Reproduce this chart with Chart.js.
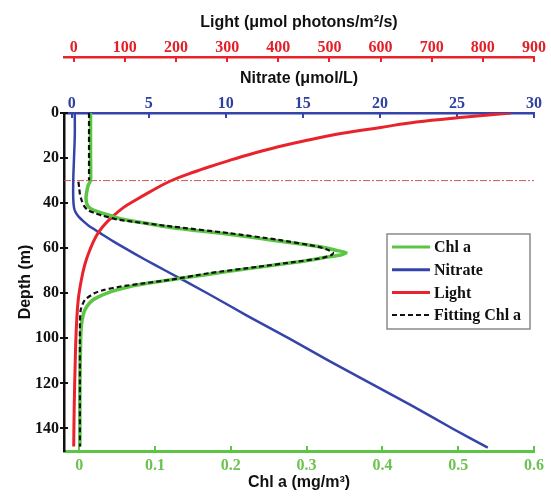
<!DOCTYPE html>
<html><head><meta charset="utf-8">
<script src="https://cdn.jsdelivr.net/npm/chart.js@4.4.0/dist/chart.umd.min.js"></script>
<style>html,body{margin:0;padding:0;background:#fff;} canvas{display:block;}</style>
</head><body>
<canvas id="c" width="551" height="501" style="width:551px;height:501px"></canvas>
<script>
// ---- data ----
const chlDepth  = [0,10,20,30,32,35,38,41,43,44.5,46,47.5,49,50.5,52,53.5,55,56.5,58,59.5,61,62,63,64,65.2,66.7,68.2,69.7,71.1,72.6,74.1,75.6,77.1,78.5,80,81.5,83,85,87.4,90,94,100,120,148];
const chlValues = [0.015,0.015,0.015,0.015,0.012,0.010,0.009,0.011,0.018,0.031,0.045,0.062,0.09,0.115,0.15,0.19,0.225,0.255,0.29,0.32,0.34,0.352,0.345,0.325,0.306,0.275,0.241,0.21,0.18,0.15,0.119,0.09,0.066,0.05,0.036,0.026,0.018,0.012,0.0075,0.005,0.003,0.002,0.001,0.001];

const fitDepth  = [0,10,20,30,30.2,30.5,33,36,38.5,41,43,44.4,45.5,47.4,50.4,53.3,56.3,59.3,61,62,63,64.4,66.3,68.2,71.1,74.1,75.6,77.1,78.5,80,83,87.4,95,120,148];
const fitValues = [0.013,0.013,0.013,0.013,null,-0.001,0.0,0.001,0.003,0.006,0.011,0.02,0.03,0.053,0.123,0.197,0.263,0.315,0.33,0.335,0.333,0.32,0.28,0.237,0.171,0.119,0.085,0.053,0.033,0.02,0.0075,0.002,0.001,0.001,0.001];

const nitrateDepth  = [0,10,20,30,38,42,44,46,48,50,52,54,57,60,65,70,80,90,100,110,120,130,140,148.5];
const nitrateValues = [0.2,0.2,0.15,0.1,0.1,0.15,0.25,0.45,0.75,1.1,1.55,2.0,2.7,3.45,4.75,6.1,8.8,11.4,14.1,16.7,19.4,22.1,24.7,27.0];

const lightDepth  = [0,2,4,6.4,9,12.3,15,18.5,21,24.4,27,30.4,35.1,38.5,42,46,50.4,55,60.8,67,74,83,96,110,130,148];
const lightValues = [855,755,670,600,525,452,400,342,305,258,225,187,148,122,97,76,57,43,31.5,22,15,8.8,5,3,1,0];

const refDepth = 30;

const chlTicks     = [0,0.1,0.2,0.3,0.4,0.5,0.6];
const nitrateTicks = [0,5,10,15,20,25,30];
const lightTicks   = [0,100,200,300,400,500,600,700,800,900];
const depthTicks   = [0,20,40,60,80,100,120,140];

const chlMin = -0.02, chlMax = 0.6;
const nitMin = -0.5,  nitMax = 30;
const lightMin = -19, lightMax = 900;
const depthMin = 0,   depthMax = 150;

// ---- styling ----
const GREEN = '#5cc545', BLUE = '#3444aa', RED = '#e8232b', BLACK = '#111111';
const GREEN_T = '#6cc24f', BLUE_T = '#3040a0', RED_T = '#e32028';
const tickFont  = {family: '"Liberation Serif", "Times New Roman", serif', weight: 'bold', size: 16, lineHeight: 1};
const titleFont = {family: '"Liberation Sans", Arial, sans-serif', weight: 'bold', size: 16, lineHeight: 1};

const pts = (ys, xs) => ys.map((y, i) => ({x: xs[i], y: y}));

const tickMarks = {
  id: 'tickMarks',
  beforeDatasetsDraw(chart) {
    const ctx = chart.ctx;
    ctx.save();
    ctx.lineWidth = 2;
    const specs = [
      {id: 'x',  vals: chlTicks,     color: GREEN, bottom: true},
      {id: 'xN', vals: nitrateTicks, color: BLUE,  bottom: false},
      {id: 'xL', vals: lightTicks,   color: RED,   bottom: false}
    ];
    specs.forEach(sp => {
      const s = chart.scales[sp.id];
      const edge = sp.bottom ? s.top : s.bottom;
      const dir = sp.bottom ? -1 : 1;
      ctx.strokeStyle = sp.color;
      ctx.beginPath();
      sp.vals.forEach(v => {
        const px = Math.round(s.getPixelForValue(v));
        ctx.moveTo(px, edge);
        ctx.lineTo(px, edge + dir * 5);
      });
      ctx.stroke();
    });
    const ys = chart.scales.y;
    ctx.strokeStyle = BLACK;
    ctx.beginPath();
    depthTicks.forEach(v => {
      const py = Math.round(ys.getPixelForValue(v));
      ctx.moveTo(ys.right - 4, py);
      ctx.lineTo(ys.right + 4, py);
    });
    ctx.stroke();
    ctx.restore();
  }
};

const boxLegend = {
  id: 'boxLegend',
  afterDatasetsDraw(chart) {
    const ctx = chart.ctx;
    const a = chart.chartArea;
    const bx = a.right - 147, by = a.top + 121, bw = 143, bh = 95;
    ctx.save();
    ctx.fillStyle = '#ffffff';
    ctx.fillRect(bx, by, bw, bh);
    ctx.strokeStyle = '#8a8a8a';
    ctx.lineWidth = 1.5;
    ctx.strokeRect(bx, by, bw, bh);
    const items = chart.data.datasets.filter(d => d.legendIndex !== undefined)
      .sort((p, q) => p.legendIndex - q.legendIndex);
    ctx.font = 'bold 16px "Liberation Serif", "Times New Roman", serif';
    ctx.textBaseline = 'middle';
    ctx.textAlign = 'left';
    items.forEach((d, i) => {
      const yy = by + 13 + i * 22.7;
      ctx.strokeStyle = d.borderColor;
      ctx.lineWidth = d.legendIndex === 3 ? 2 : 3;
      ctx.setLineDash(d.borderDash || []);
      ctx.beginPath();
      ctx.moveTo(bx + 5, yy);
      ctx.lineTo(bx + 43, yy);
      ctx.stroke();
      ctx.setLineDash([]);
      ctx.fillStyle = BLACK;
      ctx.fillText(d.label, bx + 47, yy + 1);
    });
    ctx.restore();
  }
};

const fixedTicks = arr => (s => { s.ticks = arr.map(v => ({value: v})); });

new Chart(document.getElementById('c'), {
  type: 'scatter',
  data: {
    datasets: [
      {label: 'Fitting Chl a', legendIndex: 3, data: pts(fitDepth, fitValues), xAxisID: 'x', yAxisID: 'y',
       showLine: true, borderColor: BLACK, borderWidth: 2.2, borderDash: [5, 3], pointRadius: 0, spanGaps: false, tension: 0.2, order: 0},
      {label: 'Chl a', legendIndex: 0, data: pts(chlDepth, chlValues), xAxisID: 'x', yAxisID: 'y',
       showLine: true, borderColor: GREEN, borderWidth: 3.5, pointRadius: 0, tension: 0.2, order: 1},
      {label: 'Light', legendIndex: 2, data: pts(lightDepth, lightValues), xAxisID: 'xL', yAxisID: 'y',
       showLine: true, borderColor: RED, borderWidth: 3, pointRadius: 0, tension: 0.4, order: 2},
      {label: 'Nitrate', legendIndex: 1, data: pts(nitrateDepth, nitrateValues), xAxisID: 'xN', yAxisID: 'y',
       showLine: true, borderColor: BLUE, borderWidth: 2.5, pointRadius: 0, tension: 0.3, order: 3},
      {label: 'ref', data: [{x: chlMin, y: refDepth}, {x: chlMax, y: refDepth}], xAxisID: 'x', yAxisID: 'y',
       showLine: true, borderColor: 'rgba(200,70,70,0.9)', borderWidth: 1, borderDash: [7, 2, 2, 2], pointRadius: 0, order: 4}
    ]
  },
  options: {
    responsive: false, animation: false, devicePixelRatio: 1,
    layout: {padding: {left: 0, right: 14, top: 0, bottom: 0}},
    plugins: {legend: {display: false}, tooltip: {enabled: false}},
    scales: {
      x: {
        type: 'linear', position: 'bottom', min: chlMin, max: chlMax,
        afterBuildTicks: fixedTicks(chlTicks),
        afterFit: s => { s.height = 50; },
        grid: {display: false, drawTicks: false},
        border: {display: true, color: GREEN, width: 3},
        ticks: {color: GREEN_T, font: tickFont, padding: 7, maxRotation: 0, autoSkip: false, callback: v => String(v)},
        title: {display: true, text: 'Chl a (mg/m³)', color: BLACK, font: titleFont, padding: {top: 0, bottom: 10}}
      },
      xN: {
        type: 'linear', position: 'top', weight: 0, min: nitMin, max: nitMax,
        afterBuildTicks: fixedTicks(nitrateTicks),
        afterFit: s => { s.height = 56; },
        grid: {display: false, drawTicks: false},
        border: {display: true, color: BLUE, width: 2.5},
        ticks: {color: BLUE_T, font: tickFont, padding: 1, maxRotation: 0, autoSkip: false, callback: v => String(v)},
        title: {display: true, text: 'Nitrate (μmol/L)', color: BLACK, font: titleFont, padding: {top: 14, bottom: 0}}
      },
      xL: {
        type: 'linear', position: 'top', weight: 1, min: lightMin, max: lightMax,
        afterBuildTicks: fixedTicks(lightTicks),
        afterFit: s => { s.height = 57; },
        grid: {display: false, drawTicks: false},
        border: {display: true, color: RED, width: 2.5},
        ticks: {color: RED_T, font: tickFont, padding: 1, maxRotation: 0, autoSkip: false, callback: v => String(v)},
        title: {display: true, text: 'Light (μmol photons/m²/s)', color: BLACK, font: titleFont, padding: {top: 14.5, bottom: 0}}
      },
      y: {
        type: 'linear', position: 'left', reverse: true, min: depthMin, max: depthMax,
        afterBuildTicks: fixedTicks(depthTicks),
        afterFit: s => { s.width = 64; },
        grid: {display: false, drawTicks: false},
        border: {display: true, color: BLACK, width: 2.5},
        ticks: {color: BLACK, font: tickFont, padding: 5, autoSkip: false, callback: v => String(v)},
        title: {display: true, text: 'Depth (m)', color: BLACK, font: titleFont, padding: {top: 18, bottom: 0}}
      }
    }
  },
  plugins: [tickMarks, boxLegend]
});
</script>
</body></html>
